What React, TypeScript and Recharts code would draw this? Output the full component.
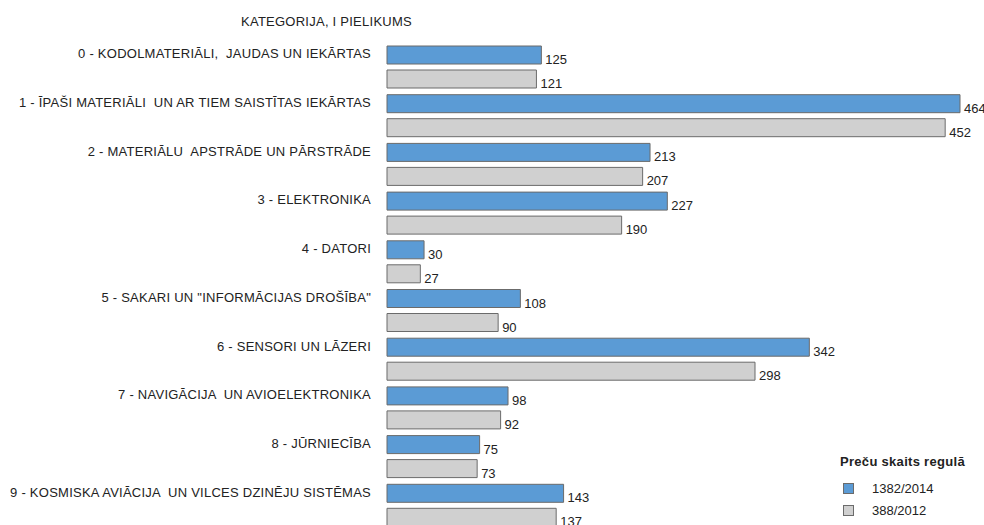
import { Bar, BarChart, LabelList, XAxis, YAxis } from 'recharts';

const categories = [
  '0 - KODOLMATERIĀLI,  JAUDAS UN IEKĀRTAS',
  '1 - ĪPAŠI MATERIĀLI  UN AR TIEM SAISTĪTAS IEKĀRTAS',
  '2 - MATERIĀLU  APSTRĀDE UN PĀRSTRĀDE',
  '3 - ELEKTRONIKA',
  '4 - DATORI',
  '5 - SAKARI UN "INFORMĀCIJAS DROŠĪBA"',
  '6 - SENSORI UN LĀZERI',
  '7 - NAVIGĀCIJA  UN AVIOELEKTRONIKA',
  '8 - JŪRNIECĪBA',
  '9 - KOSMISKA AVIĀCIJA  UN VILCES DZINĒJU SISTĒMAS',
];
const reg2014 = [125, 464, 213, 227, 30, 108, 342, 98, 75, 143];
const reg2012 = [121, 452, 207, 190, 27, 90, 298, 92, 73, 137];

const seriesNames = ['1382/2014', '388/2012'];
const colors = ['#5B9BD5', '#D0D0D0'];

const data = categories.map((name, i) => ({
  name,
  a: reg2014[i],
  b: reg2012[i],
}));

const font = 'Arial, "Liberation Sans", sans-serif';

const CategoryTick = (props: any) => {
  const { x, y, payload } = props;
  return (
    <text
      x={x}
      y={y - 12}
      dy={3}
      textAnchor="end"
      fontSize={13}
      fill="#222"
      fontFamily={font}
      style={{ whiteSpace: 'pre', letterSpacing: 0.25 }}
    >
      {payload.value}
    </text>
  );
};

const ValueLabel = (props: any) => {
  const { x, y, width, height, value } = props;
  return (
    <text x={x + width + 4} y={y + height} fontSize={13} fill="#222" fontFamily={font}>
      {value}
    </text>
  );
};

const LegendBox = () => (
  <div
    style={{
      position: 'absolute',
      left: 840,
      top: 454,
      fontFamily: font,
      fontSize: 13,
      color: '#222',
      lineHeight: '15px',
    }}
  >
    <div style={{ fontWeight: 'bold', marginBottom: 8, letterSpacing: 0.3 }}>Preču skaits regulā</div>
    {seriesNames.map((s, i) => (
      <div key={s} style={{ display: 'flex', alignItems: 'center', height: 22, paddingLeft: 3 }}>
        <span
          style={{
            width: 11,
            height: 11,
            background: colors[i],
            border: '1px solid #6b6b6b',
            marginRight: 18,
            boxSizing: 'border-box',
          }}
        />
        {s}
      </div>
    ))}
  </div>
);

export default function App() {
  return (
    <div
      style={{
        position: 'absolute',
        left: 0,
        top: 0,
        width: 984,
        height: 525,
        overflow: 'hidden',
        background: '#fff',
      }}
    >
      <div
        style={{
          position: 'absolute',
          left: 241,
          top: 14,
          fontFamily: font,
          fontSize: 13,
          lineHeight: '15px',
          letterSpacing: 0.25,
          color: '#222',
        }}
      >
        KATEGORIJA, I PIELIKUMS
      </div>
      <BarChart
        width={984}
        height={530}
        data={data}
        layout="vertical"
        margin={{ top: 43, right: 24, bottom: 0, left: 0 }}
        barSize={18}
        barGap={6}
      >
        <XAxis type="number" domain={[0, 464]} hide />
        <YAxis
          type="category"
          dataKey="name"
          width={387}
          axisLine={false}
          tickLine={false}
          tickSize={0}
          tickMargin={16}
          tick={<CategoryTick />}
          interval={0}
        />
        <Bar dataKey="a" name={seriesNames[0]} fill={colors[0]} stroke="#6b6b6b" strokeWidth={1} isAnimationActive={false}>
          <LabelList dataKey="a" content={<ValueLabel />} />
        </Bar>
        <Bar dataKey="b" name={seriesNames[1]} fill={colors[1]} stroke="#6b6b6b" strokeWidth={1} isAnimationActive={false}>
          <LabelList dataKey="b" content={<ValueLabel />} />
        </Bar>
      </BarChart>
      <LegendBox />
    </div>
  );
}
